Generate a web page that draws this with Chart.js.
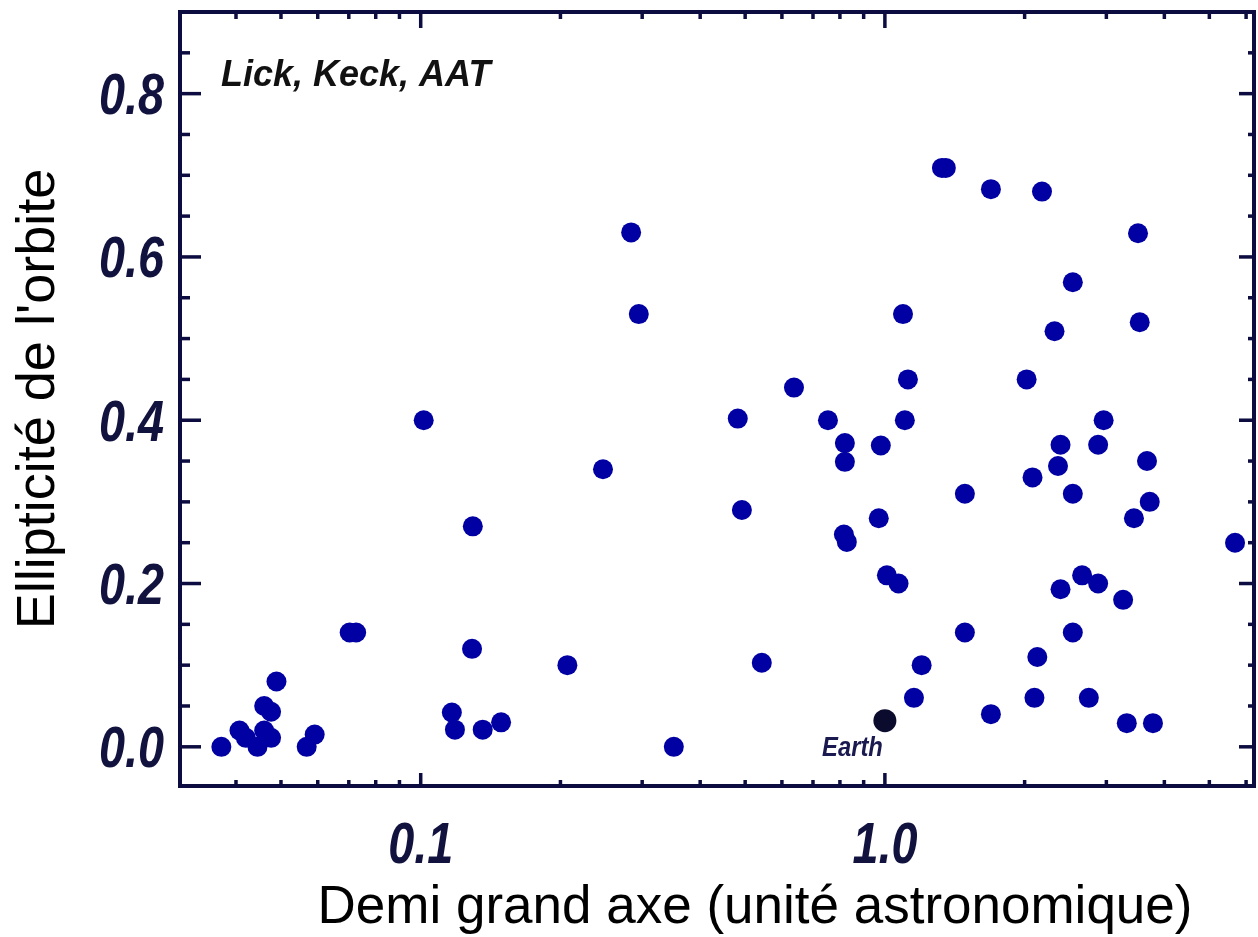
<!DOCTYPE html>
<html>
<head>
<meta charset="utf-8">
<script src="https://cdn.jsdelivr.net/npm/chart.js@4"></script>
<style>
  body { margin: 0; background: #fff; }
</style>
</head>
<body>
<canvas id="chart" width="1258" height="937"></canvas>
<script>
// semi-major axis (AU) and eccentricity
const semiMajorAxis = [
  0.0372, 0.0407, 0.042, 0.0445, 0.046, 0.0476, 0.046, 0.0476, 0.0489, 0.0568,
  0.0591, 0.0703, 0.0726, 0.1015, 0.1167, 0.1185, 0.1295, 0.129, 0.136, 0.149,
  0.207, 0.247, 0.284, 0.295, 0.351, 0.482, 0.492, 0.543, 0.637, 0.754,
  0.82, 0.82, 0.816, 0.828, 0.98, 0.97, 1.01, 1.07, 1.094, 1.104,
  1.121, 1.155, 1.2, 1.327, 1.353, 1.487, 1.487, 1.692, 1.692, 2.02,
  2.08, 2.13, 2.1, 2.18, 2.32, 2.36, 2.39, 2.39, 2.54, 2.54,
  2.54, 2.66, 2.75, 2.88, 2.88, 2.96, 3.26, 3.32, 3.44, 3.51,
  3.54, 3.67, 3.72, 3.78, 5.68
];
const eccentricity = [
  0.0, 0.02, 0.011, 0.0, 0.02, 0.011, 0.05, 0.043, 0.08, 0.0,
  0.015, 0.14, 0.14, 0.40, 0.042, 0.021, 0.27, 0.12, 0.021, 0.03,
  0.10, 0.34, 0.63, 0.53, 0.0, 0.402, 0.29, 0.103, 0.44, 0.40,
  0.372, 0.349, 0.26, 0.251, 0.369, 0.28, 0.21, 0.20, 0.53, 0.40,
  0.45, 0.06, 0.10, 0.709, 0.709, 0.31, 0.14, 0.683, 0.04, 0.45,
  0.33, 0.11, 0.06, 0.68, 0.509, 0.344, 0.37, 0.193, 0.569, 0.31,
  0.14, 0.21, 0.06, 0.20, 0.37, 0.40, 0.18, 0.029, 0.28, 0.629,
  0.52, 0.35, 0.30, 0.029, 0.25
];
const earthA = [1.0];
const earthE = [0.032];

const xTickValues = [0.1, 1.0];
const xTickLabels = ["0.1", "1.0"];
const xMinorTicks = [0.04, 0.05, 0.06, 0.07, 0.08, 0.09, 0.2, 0.3, 0.4, 0.5, 0.6, 0.7, 0.8, 0.9, 2, 3, 4, 5, 6];
const yTickValues = [0, 0.2, 0.4, 0.6, 0.8];
const yTickLabels = ["0.0", "0.2", "0.4", "0.6", "0.8"];
const yMinorTicks = [0.05, 0.1, 0.15, 0.25, 0.3, 0.35, 0.45, 0.5, 0.55, 0.65, 0.7, 0.75, 0.85];

const axisColor = "#0c0c40";
const labelColor = "#12123f";
const sansFont = '"Liberation Sans", Arial, sans-serif';

// draws text squeezed horizontally (the original uses a condensed face)
function narrowText(ctx, text, x, y, sx, align) {
  ctx.save();
  ctx.translate(x, y);
  ctx.scale(sx, 1);
  ctx.textAlign = align;
  ctx.fillText(text, 0, 0);
  ctx.restore();
}

// frame + inward ticks on all four sides, tick labels and extra texts
const framePlugin = {
  id: "frame",
  afterDraw(chart) {
    const { ctx, chartArea: a, scales: { x, y } } = chart;
    ctx.save();
    ctx.strokeStyle = axisColor;
    ctx.lineWidth = 4;
    ctx.strokeRect(a.left, a.top, a.right - a.left, a.bottom - a.top);

    ctx.lineWidth = 3.5;
    const tick = (x1, y1, x2, y2) => { ctx.beginPath(); ctx.moveTo(x1, y1); ctx.lineTo(x2, y2); ctx.stroke(); };
    xTickValues.forEach(v => {
      const px = x.getPixelForValue(v);
      tick(px, a.bottom, px, a.bottom - 13);
      tick(px, a.top, px, a.top + 16);
    });
    xMinorTicks.forEach(v => {
      const px = x.getPixelForValue(v);
      tick(px, a.bottom, px, a.bottom - 6);
      tick(px, a.top, px, a.top + 7);
    });
    yTickValues.forEach(v => {
      const py = y.getPixelForValue(v);
      tick(a.left, py, a.left + 21, py);
      tick(a.right, py, a.right - 15, py);
    });
    yMinorTicks.forEach(v => {
      const py = y.getPixelForValue(v);
      tick(a.left, py, a.left + 10, py);
      tick(a.right, py, a.right - 6, py);
    });

    // tick labels
    ctx.fillStyle = labelColor;
    ctx.font = "italic bold 57px " + sansFont;
    ctx.textBaseline = "alphabetic";
    yTickValues.forEach((v, i) => {
      narrowText(ctx, yTickLabels[i], a.left - 16, y.getPixelForValue(v) + 20.5, 0.82, "right");
    });
    xTickValues.forEach((v, i) => {
      narrowText(ctx, xTickLabels[i], x.getPixelForValue(v), 863, 0.82, "center");
    });

    // Earth label
    const ex = x.getPixelForValue(earthA[0]);
    const ey = y.getPixelForValue(earthE[0]);
    ctx.fillStyle = "#1a1a50";
    ctx.font = "italic bold 28px " + sansFont;
    narrowText(ctx, "Earth", ex - 2, ey + 35, 0.85, "right");

    // inset title
    ctx.fillStyle = "#111";
    ctx.font = "italic bold 36px " + sansFont;
    ctx.textAlign = "left";
    ctx.fillText("Lick, Keck, AAT", 221, 86);

    // x axis title
    ctx.fillStyle = "#000";
    ctx.font = "53px " + sansFont;
    ctx.textAlign = "center";
    ctx.fillText("Demi grand axe (unité astronomique)", 755, 923);
    ctx.restore();
  }
};

new Chart(document.getElementById("chart"), {
  type: "scatter",
  data: {
    datasets: [
      {
        label: "Planètes",
        data: semiMajorAxis.map((a, i) => ({ x: a, y: eccentricity[i] })),
        backgroundColor: "#0000a3",
        borderWidth: 0,
        pointRadius: 10,
        pointHoverRadius: 10
      },
      {
        label: "Earth",
        data: earthA.map((a, i) => ({ x: a, y: earthE[i] })),
        backgroundColor: "#0b0b2e",
        borderWidth: 0,
        pointRadius: 11.5,
        pointHoverRadius: 11.5
      }
    ]
  },
  options: {
    responsive: false,
    animation: false,
    clip: false,
    layout: { autoPadding: false, padding: { top: 12, right: 4, left: 0, bottom: 0 } },
    plugins: {
      legend: { display: false },
      tooltip: { enabled: false }
    },
    scales: {
      x: {
        type: "logarithmic",
        min: 0.0303,
        max: 6.24,
        afterBuildTicks: (scale) => { scale.ticks = xTickValues.map(v => ({ value: v })); },
        afterFit: (scale) => {
          scale.height = 151;
          scale.paddingLeft = 0;
          scale.paddingRight = 0;
        },
        grid: { display: false, drawTicks: false },
        border: { display: false },
        ticks: { display: false }
      },
      y: {
        min: -0.048,
        max: 0.9,
        afterBuildTicks: (scale) => { scale.ticks = yTickValues.map(v => ({ value: v })); },
        afterFit: (scale) => {
          scale.width = 180;
          scale.paddingTop = 0;
          scale.paddingBottom = 0;
        },
        grid: { display: false, drawTicks: false },
        border: { display: false },
        ticks: { display: false },
        title: {
          display: true,
          text: "Ellipticité de l'orbite",
          color: "#000",
          font: { family: sansFont, size: 54 },
          padding: { top: 7, bottom: 0 }
        }
      }
    }
  },
  plugins: [framePlugin]
});
</script>
</body>
</html>
